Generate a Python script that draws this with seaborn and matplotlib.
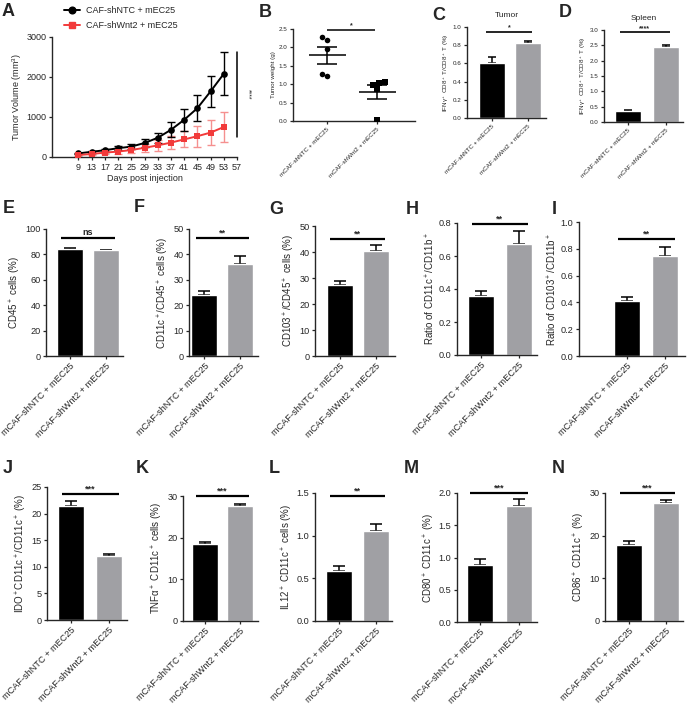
import numpy as np
import pandas as pd
import seaborn as sns
import matplotlib.pyplot as plt
from matplotlib.lines import Line2D

groups = ['mCAF-shNTC + mEC25', 'mCAF-shWnt2 + mEC25']

# A: tumour growth curves (mean +/- SEM)
days = [9, 13, 17, 21, 25, 29, 33, 37, 41, 45, 49, 53]
ntc_vol = [90, 130, 170, 220, 260, 350, 480, 680, 930, 1220, 1640, 2080]
ntc_err = [20, 30, 40, 50, 70, 90, 120, 190, 280, 330, 380, 540]
wnt_vol = [50, 75, 110, 135, 175, 230, 290, 360, 440, 520, 610, 750]
wnt_err = [20, 30, 40, 50, 70, 100, 130, 170, 200, 260, 310, 380]

# B: tumour weight per mouse
weight_ntc = [2.21, 2.28, 1.95, 1.21, 1.28]
weight_wnt = [1.03, 1.06, 0.98, 0.86, 0.02]

# bar panels: means and SEMs (NTC, Wnt2)
c_mean, c_sem = [0.60, 0.82], [0.07, 0.03]
d_mean, d_sem = [0.37, 2.46], [0.02, 0.06]
e_mean, e_sem = [84.4, 83.1], [0.7, 0.4]
f_mean, f_sem = [24.0, 36.1], [1.6, 3.1]
g_mean, g_sem = [27.4, 40.4], [1.3, 2.2]
h_mean, h_sem = [0.36, 0.67], [0.03, 0.08]
i_mean, i_sem = [0.41, 0.75], [0.03, 0.06]
j_mean, j_sem = [21.4, 12.0], [1.0, 0.4]
k_mean, k_sem = [18.4, 27.5], [0.6, 0.7]
l_mean, l_sem = [0.59, 1.05], [0.055, 0.085]
m_mean, m_sem = [0.89, 1.80], [0.08, 0.10]
n_mean, n_sem = [17.7, 27.7], [1.0, 0.75]

sns.set_style('ticks')
plt.rcParams['font.family'] = ['Liberation Sans', 'DejaVu Sans']
plt.rcParams['mathtext.fontset'] = 'custom'
plt.rcParams['mathtext.rm'] = 'Liberation Sans'
plt.rcParams['mathtext.it'] = 'Liberation Sans:italic'
plt.rcParams['mathtext.bf'] = 'Liberation Sans:bold'
plt.rcParams['mathtext.default'] = 'regular'
plt.rcParams['axes.linewidth'] = 1.0

W, H = 689, 720
fig = plt.figure(figsize=(W / 100, H / 100), dpi=100)

BLACK = '#000000'
GRAY = '#a0a0a4'
RED = '#f23a3a'
RED_ERR = '#f5908f'


def px_axes(x0, ytop, x1, ybot):
    return fig.add_axes([x0 / W, 1 - ybot / H, (x1 - x0) / W, (ybot - ytop) / H])


def style_axes(ax, fs):
    sns.despine(ax=ax)
    ax.tick_params(direction='out', length=2.5, width=0.9, labelsize=fs, pad=1.5)


def add_sig(ax, level, label, x0, x1, fs, lw=1.6):
    ax.plot([x0, x1], [level, level], color='black', lw=lw, clip_on=False,
            solid_capstyle='butt')
    ax.annotate(label, ((x0 + x1) / 2, level), xytext=(0, 0.3),
                textcoords='offset points', ha='center', va='bottom',
                fontsize=fs, fontweight='bold', annotation_clip=False)


def bar_panel(box, centers, means, sems, ylim, step, ylabel, sig, sig_level,
              fs=6.6, small=False, title=None, sig_x=(-0.25, 1.25)):
    x0, ytop, x1, ybot = box
    ax = px_axes(*box)
    df = pd.DataFrame({'group': groups, 'value': means})
    spacing = centers[1] - centers[0]
    sns.barplot(data=df, x='group', y='value', hue='group', order=groups,
                hue_order=groups, palette=[BLACK, GRAY], width=26 / spacing,
                errorbar=None, legend=False, ax=ax, saturation=1, zorder=2)
    cap = 3.2 if title else 4.6
    ax.errorbar([0, 1], means, yerr=[[0, 0], sems], fmt='none', ecolor='black',
                elinewidth=1.1, capsize=cap, capthick=1.1, zorder=1)
    ax.set_xlim((x0 - centers[0]) / spacing, (x1 - centers[0]) / spacing)
    ax.set_ylim(*ylim)
    ax.set_yticks(np.arange(ylim[0], ylim[1] + step / 2, step))
    if small:
        ax.set_yticklabels([f'{v:.1f}' for v in ax.get_yticks()])
    ax.set_xlabel('')
    ax.set_ylabel(ylabel, fontsize=fs if title else 7, labelpad=1.5)
    style_axes(ax, fs)
    ax.set_xticks([0, 1])
    ax.set_xticklabels(groups, rotation=45, ha='right', rotation_mode='anchor',
                       fontsize=fs)
    add_sig(ax, sig_level, sig, sig_x[0], sig_x[1], 5 if title else 6.5,
            lw=1.2 if title else 1.6)
    if title:
        ax.set_title(title, fontsize=6, pad=7)
    return ax


# ---------- A ----------
axA = px_axes(52, 37, 237, 157)
growth = pd.DataFrame({
    'day': days * 2,
    'volume': ntc_vol + wnt_vol,
    'group': ['CAF-shNTC + mEC25'] * len(days) + ['CAF-shWnt2 + mEC25'] * len(days),
})
axA.errorbar(days, wnt_vol, yerr=wnt_err, fmt='none', ecolor=RED_ERR,
             elinewidth=1.0, capsize=3.2, capthick=1.0, zorder=1)
axA.errorbar(days, ntc_vol, yerr=ntc_err, fmt='none', ecolor='black',
             elinewidth=1.0, capsize=3.2, capthick=1.0, zorder=1)
sns.lineplot(data=growth, x='day', y='volume', hue='group', style='group',
             markers=['o', 's'], dashes=False, palette=[BLACK, RED],
             markersize=4.8, markeredgewidth=0, linewidth=1.4, legend=False,
             ax=axA, zorder=3)
axA.set_xlim(1, 57)
axA.set_ylim(0, 3000)
axA.set_xticks(range(9, 58, 4))
axA.set_yticks([0, 1000, 2000, 3000])
axA.set_xlabel('Days post injection', fontsize=6.5, labelpad=2)
axA.set_ylabel('Tumor Volume (mm$^3$)', fontsize=6.5, labelpad=2)
style_axes(axA, 6.5)
axA.plot([57, 57], [500, 2630], color='black', lw=1.1, clip_on=False)
axA.text(60.2, 1560, '****', rotation=270, ha='center', va='center',
         fontsize=5, clip_on=False)
handles = [Line2D([], [], color=BLACK, marker='o', markersize=4.8, lw=1.4),
           Line2D([], [], color=RED, marker='s', markersize=4.8, lw=1.4)]
fig.legend(handles, ['CAF-shNTC + mEC25', 'CAF-shWnt2 + mEC25'],
           loc='upper left', bbox_to_anchor=(64 / W, 1 - 6 / H), frameon=False,
           fontsize=6.5, handlelength=1.8, handletextpad=0.6, labelspacing=0.7,
           borderaxespad=0, borderpad=0)

# ---------- B ----------
axB = px_axes(293, 29, 415, 121)
sns.swarmplot(x=[groups[0]] * len(weight_ntc), y=weight_ntc, order=groups,
              color='black', marker='o', size=4, ax=axB, zorder=3)
sns.swarmplot(x=[groups[1]] * len(weight_wnt), y=weight_wnt, order=groups,
              color='black', marker='s', size=4, ax=axB, zorder=3)
for i, vals in enumerate([weight_ntc, weight_wnt]):
    m = np.mean(vals)
    se = np.std(vals, ddof=1) / np.sqrt(len(vals))
    axB.hlines(m, i - 0.37, i + 0.37, color='black', lw=1.1, zorder=4)
    axB.hlines([m - se, m + se], i - 0.2, i + 0.2, color='black', lw=1.1, zorder=4)
    axB.vlines(i, m - se, m + se, color='black', lw=1.1, zorder=4)
axB.set_xlim((293 - 327) / 50, (415 - 327) / 50)
axB.set_ylim(0, 2.5)
axB.set_yticks(np.arange(0, 2.51, 0.5))
axB.set_yticklabels([f'{v:.1f}' for v in np.arange(0, 2.51, 0.5)])
axB.set_ylabel('Tumor weight (g)', fontsize=4.5, labelpad=2)
style_axes(axB, 4.5)
axB.set_xticks([0, 1])
axB.set_xticklabels(groups, rotation=45, ha='right', rotation_mode='anchor',
                    fontsize=4.5)
add_sig(axB, 2.48, '*', 0, 0.96, 5, lw=1.1)

# ---------- C, D ----------
ifng = 'IFN\u03b3$^+$ CD8$^+$ T/CD8$^+$ T (%)'
bar_panel((467, 27, 546, 118), (492, 528), c_mean, c_sem, (0, 1.0), 0.2, ifng,
          '*', 0.95, fs=4.5, small=True, title='Tumor', sig_x=(-0.17, 1.12))
bar_panel((604, 30, 683, 122), (627.5, 665.5), d_mean, d_sem, (0, 3.0), 0.5, ifng,
          '****', 2.92, fs=4.5, small=True, title='Spleen', sig_x=(-0.2, 1.12))

# ---------- row E-I ----------
bar_panel((46, 229, 123, 356), (70, 106), e_mean, e_sem, (0, 100), 20,
          'CD45$^+$ cells (%)', 'ns', 93)
bar_panel((189, 229, 258, 356), (204.5, 240), f_mean, f_sem, (0, 50), 10,
          'CD11c$^+$/CD45$^+$ cells (%)', '**', 46.4)
bar_panel((315, 226, 395, 356), (339.5, 376), g_mean, g_sem, (0, 50), 10,
          'CD103$^+$/CD45$^+$ cells (%)', '**', 45)
bar_panel((457, 223, 537, 355), (481, 518.5), h_mean, h_sem, (0, 0.8), 0.2,
          'Ratio of CD11c$^+$/CD11b$^+$', '**', 0.796, small=True)
bar_panel((579, 222, 685, 356), (627, 665), i_mean, i_sem, (0, 1.0), 0.2,
          'Ratio of CD103$^+$/CD11b$^+$', '**', 0.876, small=True)

# ---------- row J-N ----------
bar_panel((47, 487, 127, 620), (71, 109), j_mean, j_sem, (0, 25), 5,
          'IDO$^+$CD11c$^+$/CD11c$^+$ (%)', '***', 23.7)
bar_panel((183, 496, 258, 621), (204.5, 240), k_mean, k_sem, (0, 30), 10,
          'TNF\u03b1$^+$ CD11c$^+$ cells (%)', '***', 30)
bar_panel((315, 493, 392, 621), (339, 375.5), l_mean, l_sem, (0, 1.5), 0.5,
          'IL12$^+$ CD11c$^+$ cells (%)', '**', 1.47, small=True)
bar_panel((457, 493, 537, 622), (480, 518.5), m_mean, m_sem, (0, 2.0), 0.5,
          'CD80$^+$ CD11c$^+$ (%)', '***', 2.0, small=True)
bar_panel((605, 493, 683, 621), (629, 665.5), n_mean, n_sem, (0, 30), 10,
          'CD86$^+$ CD11c$^+$ (%)', '***', 30)

# panel letters
letters = {'A': (2, 3), 'B': (259, 4), 'C': (432, 7), 'D': (559, 4),
           'E': (3, 200), 'F': (134, 199), 'G': (269, 201), 'H': (406, 201),
           'I': (552, 201), 'J': (3, 460), 'K': (136, 460), 'L': (269, 460),
           'M': (404, 460), 'N': (552, 460)}
for letter, (x, y) in letters.items():
    fig.text(x / W, 1 - y / H, letter, fontsize=13, fontweight='bold',
             ha='left', va='top')

fig.savefig('out.png', dpi=100)
